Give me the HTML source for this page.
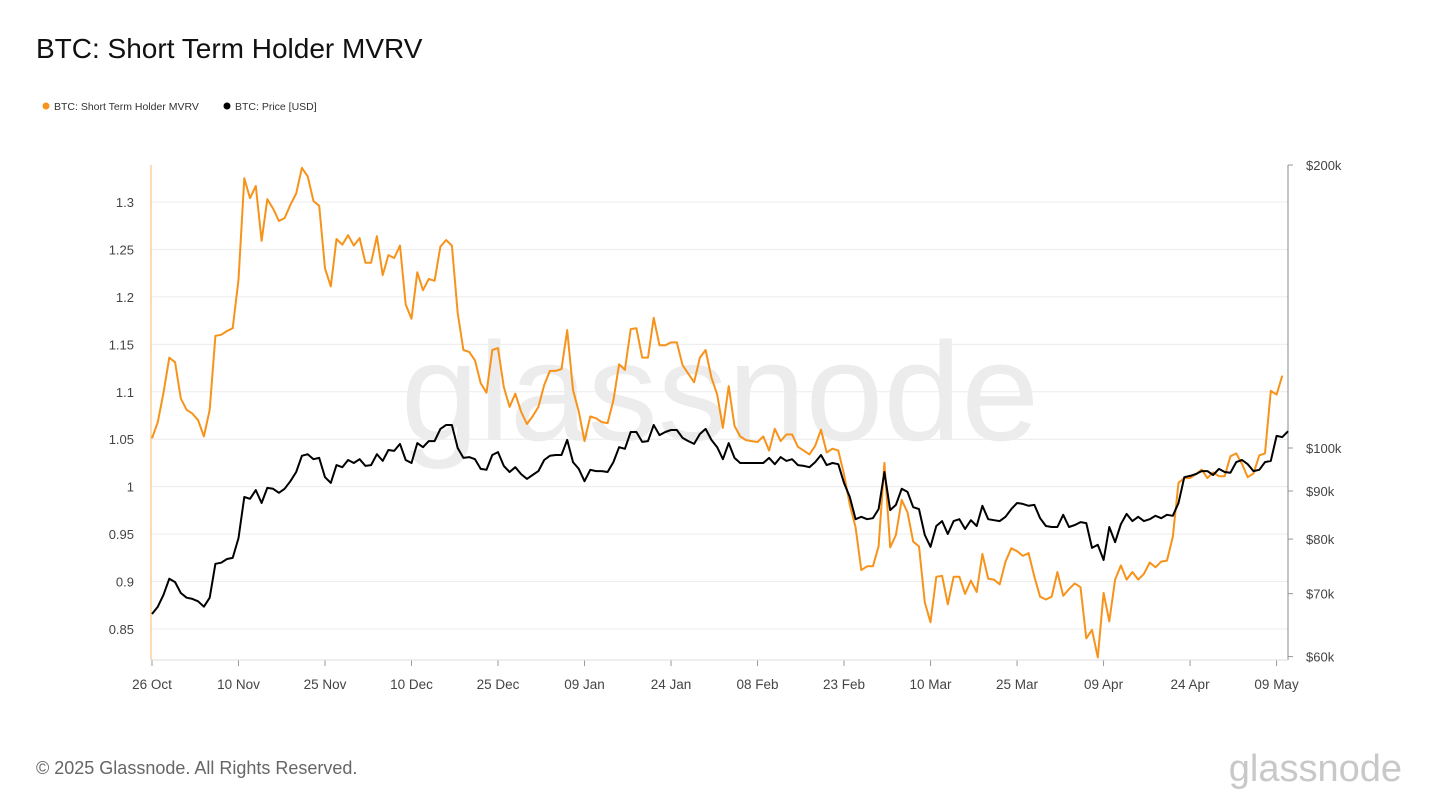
<!DOCTYPE html>
<html><head><meta charset="utf-8">
<style>
body{margin:0;background:#fff;font-family:"Liberation Sans",sans-serif;}
#wrap{position:relative;width:1440px;height:810px;overflow:hidden;}
</style></head>
<body>
<div id="wrap">
<svg id="chart" width="1440" height="810" xmlns="http://www.w3.org/2000/svg">
  <text x="36" y="58" font-size="28" fill="#111">BTC: Short Term Holder MVRV</text>
  <g>
    <circle cx="46" cy="106" r="3.5" fill="#f7931a"/>
    <text x="54" y="110" font-size="10.5" fill="#333">BTC: Short Term Holder MVRV</text>
    <circle cx="227" cy="106" r="3.5" fill="#000"/>
    <text x="235" y="110" font-size="10.5" fill="#333">BTC: Price [USD]</text>
  </g>
  <text x="720" y="440" font-size="140" fill="#ececec" text-anchor="middle">glassnode</text>
  <g id="grid"></g>
  <g id="axes"></g>
  <path id="mvrvLine" fill="none" stroke="#f7931a" stroke-width="2" stroke-linejoin="round"/>
  <path id="priceLine" fill="none" stroke="#000" stroke-width="2" stroke-linejoin="round"/>
  <text x="36" y="774" font-size="18" fill="#666">© 2025 Glassnode. All Rights Reserved.</text>
  <text x="1402" y="781" font-size="38" fill="#c8c8c8" text-anchor="end">glassnode</text>
</svg>
</div>
<script>
const mvrv=[1.051,1.068,1.099,1.136,1.131,1.093,1.081,1.077,1.070,1.053,1.081,1.159,1.160,1.164,1.167,1.218,1.325,1.304,1.317,1.259,1.303,1.293,1.280,1.283,1.297,1.309,1.336,1.327,1.301,1.296,1.230,1.211,1.261,1.255,1.265,1.254,1.262,1.236,1.236,1.264,1.223,1.244,1.241,1.254,1.192,1.177,1.226,1.207,1.219,1.217,1.253,1.260,1.254,1.183,1.144,1.142,1.133,1.109,1.099,1.144,1.146,1.105,1.084,1.098,1.079,1.066,1.074,1.084,1.107,1.122,1.122,1.124,1.165,1.102,1.079,1.048,1.074,1.072,1.068,1.067,1.091,1.129,1.123,1.166,1.167,1.136,1.136,1.178,1.149,1.149,1.152,1.152,1.128,1.119,1.110,1.136,1.144,1.115,1.097,1.062,1.106,1.064,1.053,1.049,1.048,1.047,1.053,1.038,1.061,1.048,1.055,1.055,1.042,1.038,1.034,1.043,1.060,1.036,1.040,1.038,1.013,0.981,0.957,0.912,0.916,0.916,0.937,1.025,0.936,0.949,0.986,0.973,0.942,0.937,0.878,0.857,0.905,0.906,0.876,0.905,0.905,0.887,0.901,0.889,0.929,0.903,0.902,0.897,0.921,0.935,0.932,0.927,0.930,0.905,0.884,0.881,0.884,0.910,0.885,0.892,0.898,0.894,0.840,0.849,0.820,0.888,0.858,0.902,0.917,0.902,0.910,0.902,0.908,0.920,0.915,0.921,0.922,0.947,1.004,1.009,1.009,1.013,1.018,1.009,1.015,1.011,1.011,1.032,1.035,1.024,1.010,1.014,1.033,1.035,1.101,1.097,1.117];
const priceK=[66.6,67.8,69.8,72.6,72.0,70.1,69.3,69.1,68.7,67.8,69.3,75.3,75.5,76.2,76.4,80.2,88.7,88.3,90.2,87.4,90.7,90.5,89.6,90.5,92.2,94.3,98.1,98.5,97.3,97.6,93.1,91.8,95.9,95.4,97.1,96.4,97.3,95.7,95.9,98.5,96.9,99.5,99.3,101.0,97.1,96.4,101.2,100.2,101.7,101.7,104.8,105.8,105.8,100,97.6,97.8,97.3,95.0,94.8,98.3,99.0,95.7,94.3,95.4,93.8,92.7,93.6,94.5,97.1,98.1,98.3,98.3,102.0,96.6,95.0,92.2,94.8,94.5,94.5,94.3,96.6,100.2,99.8,104.0,104.0,101.5,101.7,105.8,103.2,104.0,104.5,104.5,102.5,101.7,101.0,103.5,104.8,102.0,100.2,97.3,101.2,97.6,96.4,96.4,96.4,96.4,96.4,97.6,96.1,97.8,96.9,97.3,95.9,95.7,95.4,96.6,98.3,95.9,96.4,96.1,91.8,88.7,84.0,84.5,84.0,84.2,86.1,94.3,85.9,87.0,90.5,89.8,86.5,86.1,80.8,78.5,82.6,83.6,81.0,83.6,84.0,82.0,83.8,82.6,86.8,84.0,83.8,83.6,84.5,86.1,87.4,87.2,86.8,87.0,84.2,82.6,82.4,82.4,84.9,82.4,82.8,83.4,83.2,78.3,78.9,76.0,82.4,79.4,83.0,85.1,83.6,84.5,83.6,84.0,84.7,84.2,84.9,84.7,87.4,93.1,93.4,93.8,94.5,94.5,93.6,95.0,94.3,94.1,96.6,97.1,96.1,94.5,94.8,96.6,96.9,103.0,102.7,104.2];
const leftTicks=[1.3,1.25,1.2,1.15,1.1,1.05,1,0.95,0.9,0.85];
const leftTickLabels=["1.3","1.25","1.2","1.15","1.1","1.05","1","0.95","0.9","0.85"];
const rightTicks=[200,100,90,80,70,60];
const rightTickLabels=["$200k","$100k","$90k","$80k","$70k","$60k"];
const xTickDays=[0,15,30,45,60,75,90,105,120,135,150,165,180,195];
const xTickLabels=["26 Oct","10 Nov","25 Nov","10 Dec","25 Dec","09 Jan","24 Jan","08 Feb","23 Feb","10 Mar","25 Mar","09 Apr","24 Apr","09 May"];

const X0=152, DAY=5.767, LEFT=151, RIGHT=1288, TOP=165, BOTTOM=660;
const xAt=d=>X0+d*DAY;
const yL=v=>202+(1.3-v)/0.05*47.44;
const yR=p=>165+Math.log2(200/p)*283;
const NS="http://www.w3.org/2000/svg";
function mk(tag,attrs,parent,text){const e=document.createElementNS(NS,tag);for(const k in attrs)e.setAttribute(k,attrs[k]);if(text!==undefined)e.textContent=text;parent.appendChild(e);return e;}
const grid=document.getElementById('grid'), axes=document.getElementById('axes');
leftTicks.forEach((v,i)=>{
  const y=yL(v);
  const g=mk('line',{x1:LEFT,x2:RIGHT,y1:y,y2:y,stroke:'#ececec','stroke-width':1},grid);
  
  
  const t=mk('text',{x:134,y:y+5,'font-size':13,fill:'#444','text-anchor':'end'},axes,leftTickLabels[i]);
  
  
});
rightTicks.forEach((p,i)=>{
  const y=yR(p);
  const t=mk('text',{x:1306,y:y+5,'font-size':13,fill:'#444'},axes,rightTickLabels[i]);
  
  
  const tk=mk('line',{x1:RIGHT,x2:RIGHT+5,y1:y,y2:y,stroke:'#999'},axes);
  
  
});
xTickDays.forEach((d,i)=>{
  const x=xAt(d);
  const tk=mk('line',{x1:x,x2:x,y1:BOTTOM,y2:BOTTOM+6,stroke:'#999'},axes);
  
  
  const t=mk('text',{x:x,y:689,'font-size':13.5,fill:'#444','text-anchor':'middle'},axes,xTickLabels[i]);
  
  
});
const la=mk('line',{x1:LEFT,x2:LEFT,y1:TOP,y2:BOTTOM,stroke:'#f7b96a','stroke-width':1},axes);


const ra=mk('line',{x1:RIGHT,x2:RIGHT,y1:TOP,y2:BOTTOM,stroke:'#888','stroke-width':1},axes);


const bl=mk('line',{x1:LEFT,x2:RIGHT,y1:BOTTOM,y2:BOTTOM,stroke:'#ddd','stroke-width':1},axes);


document.getElementById('mvrvLine').setAttribute('d',mvrv.map((v,i)=>(i?'L':'M')+xAt(i).toFixed(1)+' '+yL(v).toFixed(1)).join(''));
document.getElementById('priceLine').setAttribute('d',priceK.map((p,i)=>(i?'L':'M')+xAt(i).toFixed(1)+' '+yR(p).toFixed(1)).join(''));
</script>
</body></html>
